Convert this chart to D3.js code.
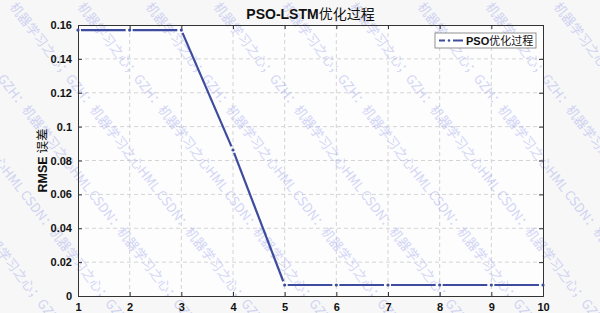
<!DOCTYPE html>
<html>
<head>
<meta charset="utf-8">
<script src="https://cdn.jsdelivr.net/npm/d3@7"></script>
<style>
  body { margin: 0; background: #f7f7f7; }
  svg { display: block; }
  text { font-family: "Liberation Sans", Arial, "Noto Sans CJK SC", sans-serif; }
</style>
</head>
<body>
<svg id="chart" width="600" height="313"></svg>
<script>
// values
const iterations = [1, 2, 3, 4, 5, 6, 7, 8, 9, 10];
const rmse = [0.157, 0.157, 0.157, 0.0862, 0.0065, 0.0065, 0.0065, 0.0065, 0.0065, 0.0065];
const yTicks = [0, 0.02, 0.04, 0.06, 0.08, 0.1, 0.12, 0.14, 0.16];
const yTickLabels = ['0', '0.02', '0.04', '0.06', '0.08', '0.1', '0.12', '0.14', '0.16'];
const watermark = 'CSDN：机器学习之心；GZH：机器学习之心HML';

const margin = { top: 25, right: 57, bottom: 17, left: 78 };
const W = 600, H = 313;
const svg = d3.select('#chart');

const x = d3.scaleLinear().domain([1, 10]).range([margin.left, W - margin.right]);
const y = d3.scaleLinear().domain([0, 0.16]).range([H - margin.bottom, margin.top]);

// plot area
svg.append('rect')
  .attr('x', x(1)).attr('y', y(0.16))
  .attr('width', x(10) - x(1)).attr('height', y(0) - y(0.16))
  .attr('fill', '#fdfdfe');

// grid
svg.append('g').selectAll('line').data(iterations.slice(1, -1)).join('line')
  .attr('x1', d => x(d)).attr('x2', d => x(d))
  .attr('y1', y(0)).attr('y2', y(0.16))
  .attr('stroke', '#d4d4d4').attr('stroke-dasharray', '4,3');
svg.append('g').selectAll('line').data(yTicks.slice(1, -1)).join('line')
  .attr('x1', x(1)).attr('x2', x(10))
  .attr('y1', d => y(d)).attr('y2', d => y(d))
  .attr('stroke', '#d4d4d4').attr('stroke-dasharray', '4,3');

// watermark (under the data, over the background)
const wm = svg.append('g').attr('pointer-events', 'none');
d3.range(-8, 12).forEach(k => {
  wm.append('text')
    .attr('transform', `translate(${k * 68 - 20},${-30}) rotate(52)`)
    .attr('font-size', 13).attr('fill', '#a9afee').attr('opacity', 0.5)
    .style('font-family', '"Noto Sans CJK SC", sans-serif')
    .text((watermark + '  ').repeat(2));
});

// axes with inward ticks
const xAxis = svg.append('g').attr('transform', `translate(0,${y(0)})`)
  .call(d3.axisBottom(x).tickValues(iterations).tickSize(-4).tickPadding(9).tickFormat(d3.format('d')));
const xTop = svg.append('g').attr('transform', `translate(0,${y(0.16)})`)
  .call(d3.axisTop(x).tickValues(iterations).tickSize(-4).tickFormat(''));
const yAxis = svg.append('g').attr('transform', `translate(${x(1)},0)`)
  .call(d3.axisLeft(y).tickValues(yTicks).tickSize(-4).tickPadding(6).tickFormat((d, i) => yTickLabels[i]));
const yRight = svg.append('g').attr('transform', `translate(${x(10)},0)`)
  .call(d3.axisRight(y).tickValues(yTicks).tickSize(-4).tickFormat(''));

[xAxis, xTop, yAxis, yRight].forEach(g => {
  g.selectAll('path').attr('stroke', '#333').attr('stroke-width', 1);
  g.selectAll('.tick line').attr('stroke', '#333');
  g.selectAll('text').attr('fill', '#111').attr('font-size', 11).attr('font-weight', 'bold')
    .style('font-family', '"Liberation Sans", Arial, sans-serif');
});
xAxis.selectAll('.tick text').attr('dy', '0.55em');

// line: dash between points with gaps, dot at each point
const pts = iterations.map((d, i) => ({ x: x(d), y: y(rmse[i]) }));
const color = '#3d4c9e';
const segs = pts.slice(0, -1).map((p, i) => {
  const q = pts[i + 1];
  const len = Math.hypot(q.x - p.x, q.y - p.y);
  const ux = (q.x - p.x) / len, uy = (q.y - p.y) / len;
  return { x1: p.x + ux * 3, y1: p.y + uy * 3, x2: q.x - ux * 4, y2: q.y - uy * 4 };
});
svg.append('g').selectAll('line').data(segs).join('line')
  .attr('x1', d => d.x1).attr('y1', d => d.y1)
  .attr('x2', d => d.x2).attr('y2', d => d.y2)
  .attr('stroke', color).attr('stroke-width', 2.2);
svg.append('g').selectAll('circle').data(pts).join('circle')
  .attr('cx', d => d.x).attr('cy', d => d.y).attr('r', 1.6).attr('fill', color);

// title
svg.append('text').attr('x', (x(1) + x(10)) / 2).attr('y', 19)
  .attr('text-anchor', 'middle').attr('font-size', 14).attr('fill', '#111')
  .html('<tspan font-weight="bold">PSO-LSTM</tspan><tspan font-family="Noto Sans CJK SC">优化过程</tspan>');

// y label
svg.append('text').attr('transform', `translate(47,${(y(0) + y(0.16)) / 2}) rotate(-90)`)
  .attr('text-anchor', 'middle').attr('font-size', 12.5).attr('fill', '#111')
  .html('<tspan font-weight="bold">RMSE</tspan><tspan font-family="Noto Sans CJK SC"> 误差</tspan>');

// legend
const lg = svg.append('g').attr('transform', 'translate(435,33)');
lg.append('rect').attr('width', 101).attr('height', 15).attr('fill', '#fff').attr('stroke', '#777').attr('stroke-width', 0.8);
lg.append('line').attr('x1', 4).attr('x2', 10).attr('y1', 7.5).attr('y2', 7.5).attr('stroke', color).attr('stroke-width', 2);
lg.append('circle').attr('cx', 14).attr('cy', 7.5).attr('r', 1.3).attr('fill', color);
lg.append('line').attr('x1', 18).attr('x2', 28).attr('y1', 7.5).attr('y2', 7.5).attr('stroke', color).attr('stroke-width', 2);
lg.append('text').attr('x', 31).attr('y', 11.5).attr('font-size', 11).attr('fill', '#111')
  .html('<tspan font-weight="bold">PSO</tspan><tspan font-family="Noto Sans CJK SC">优化过程</tspan>');
</script>
</body>
</html>
